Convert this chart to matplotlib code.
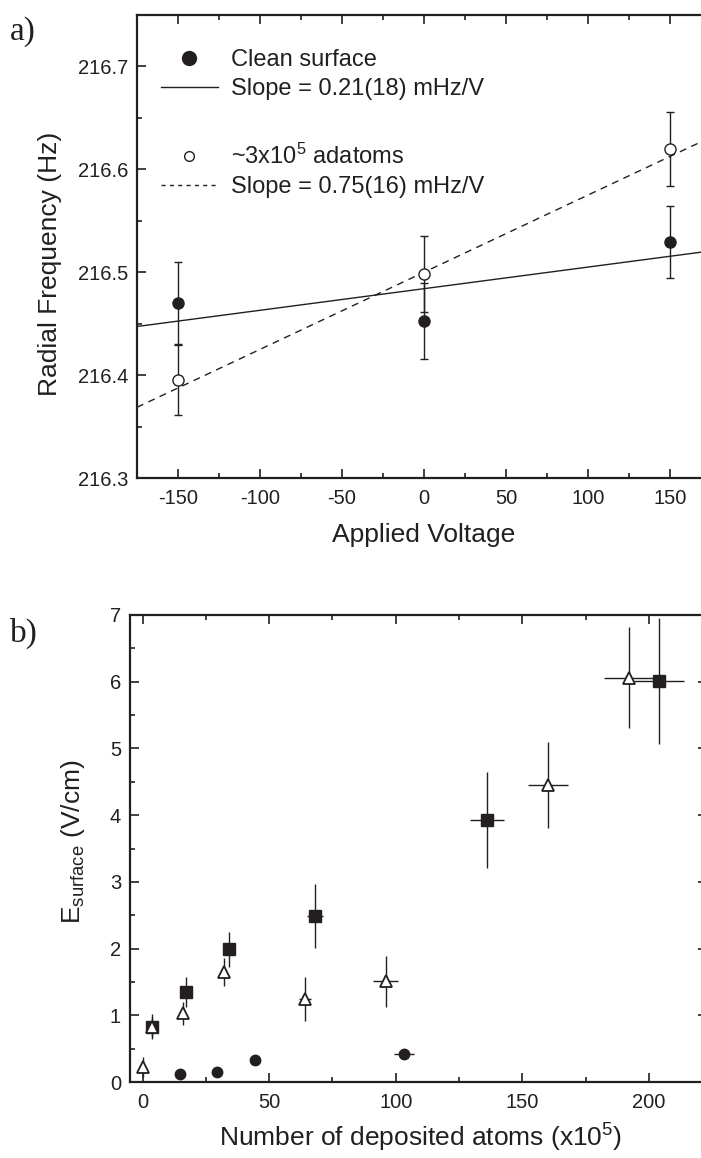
import numpy as np
import matplotlib
matplotlib.use("Agg")
import matplotlib.pyplot as plt
from matplotlib import font_manager
from matplotlib.lines import Line2D
from matplotlib.ticker import MultipleLocator, FormatStrFormatter

# narrow sans if we have it, else plain Liberation Sans with smaller sizes
try:
    font_manager.findfont("Liberation Sans Narrow", fallback_to_default=False)
    SANS = "Liberation Sans Narrow"
    TICK_FS, LAB_FS, LEG_FS = 18, 23, 20
except ValueError:
    SANS = "Liberation Sans"
    TICK_FS, LAB_FS, LEG_FS = 14.5, 19, 17

plt.rcParams["font.family"] = [SANS, "DejaVu Sans"]
plt.rcParams["mathtext.fontset"] = "custom"
plt.rcParams["mathtext.rm"] = SANS
plt.rcParams["mathtext.default"] = "regular"
plt.rcParams["axes.unicode_minus"] = False

INK = "#231f20"
W, H = 701, 1158

# --- panel a: radial frequency vs applied voltage ---
volts = [-150, 0, 150]
clean_f = [216.470, 216.453, 216.529]
clean_err = [0.040, 0.037, 0.035]
adatom_f = [216.395, 216.498, 216.620]
adatom_err = [0.034, 0.037, 0.036]
# linear fits: (intercept Hz, slope Hz/V)
clean_fit = (216.484, 0.00021)
adatom_fit = (216.500, 0.00075)

# --- panel b: surface field vs deposited atoms (x1e5) ---
circ_x = [14.6, 29.5, 44.4, 103.3]
circ_y = [0.12, 0.15, 0.33, 0.42]
circ_xerr = [0, 0, 0, 4.0]
circ_yerr = [0.02, 0.02, 0.02, 0.02]

sq_x = [3.6, 17, 34, 68, 136, 204]
sq_y = [0.83, 1.35, 1.99, 2.49, 3.93, 6.01]
sq_xerr = [0, 0, 0, 3.2, 6.7, 9.8]
sq_yerr = [0.19, 0.22, 0.26, 0.48, 0.72, 0.95]

tri_x = [0, 3.6, 16, 32, 64.3, 96, 160.2, 192]
tri_y = [0.22, 0.83, 1.03, 1.65, 1.25, 1.51, 4.45, 6.06]
tri_xerr = [0, 0, 0, 0, 2.4, 5.0, 8.0, 9.8]
tri_yerr = [0.15, 0.15, 0.17, 0.21, 0.33, 0.38, 0.65, 0.76]

fig = plt.figure(figsize=(W / 100, H / 100), dpi=100)


def px_axes(left, top, right, bottom):
    # axes box from pixel edges (top-left origin); right may run off the figure
    return fig.add_axes([left / W, 1 - bottom / H, (right - left) / W, (bottom - top) / H])


def style_axes(ax):
    for s in ax.spines.values():
        s.set_linewidth(1.6)
        s.set_color(INK)
    ax.tick_params(which="both", direction="in", top=True, right=True,
                   colors=INK, labelsize=TICK_FS, width=1.2)
    ax.tick_params(which="major", length=6.5)
    ax.tick_params(which="minor", length=3.6)
    ax.tick_params(axis="y", pad=6.5)
    ax.tick_params(axis="x", pad=8)


def fig_label(x, y, s, rot=0):
    fig.text(x / W, 1 - y / H, s, fontsize=LAB_FS, color=INK, ha="center",
             va="center", rotation=rot)


# panel a
ax1 = px_axes(137, 15, 711, 478)
ax1.set_xlim(-175, 175)
ax1.set_ylim(216.3, 216.75)
xs = np.array(ax1.get_xlim())
ax1.plot(xs, clean_fit[0] + clean_fit[1] * xs, "-", color=INK, lw=1.0, zorder=2)
ax1.plot(xs, adatom_fit[0] + adatom_fit[1] * xs, "--", color=INK, lw=1.0,
         dashes=(5, 4), zorder=2)
ax1.errorbar(volts, clean_f, yerr=clean_err, fmt="o", ms=8, mfc=INK, mec=INK,
             ecolor=INK, elinewidth=1.0, capsize=3, capthick=1.0, zorder=3)
ax1.errorbar(volts, adatom_f, yerr=adatom_err, fmt="o", ms=8, mfc="white", mec=INK,
             mew=1.0, ecolor=INK, elinewidth=1.0, capsize=3, capthick=1.0, zorder=3)
ax1.set_xticks(np.arange(-150, 151, 50))
ax1.xaxis.set_minor_locator(MultipleLocator(25))
ax1.yaxis.set_major_locator(MultipleLocator(0.1))
ax1.yaxis.set_minor_locator(MultipleLocator(0.05))
ax1.yaxis.set_major_formatter(FormatStrFormatter("%.1f"))
style_axes(ax1)
fig_label(424, 535, "Applied Voltage")
fig_label(50, 264, "Radial Frequency (Hz)", rot=90)

leg_kw = dict(loc="upper left", frameon=False, fontsize=LEG_FS, handlelength=2.4,
              handletextpad=0.55, labelspacing=0.3, borderpad=0, borderaxespad=0,
              labelcolor=INK)
leg1 = ax1.legend(
    [Line2D([], [], ls="none", marker="o", ms=10, mfc=INK, mec=INK),
     Line2D([], [], ls="-", color=INK, lw=1.0)],
    ["Clean surface", "Slope = 0.21(18) mHz/V"],
    bbox_to_anchor=(0.042, 0.926), **leg_kw)
ax1.add_artist(leg1)
ax1.legend(
    [Line2D([], [], ls="none", marker="o", ms=7, mfc="white", mec=INK),
     Line2D([], [], ls="--", color=INK, lw=1.0, dashes=(3, 3))],
    ["~3x10$^5$ adatoms", "Slope = 0.75(16) mHz/V"],
    bbox_to_anchor=(0.042, 0.722), **leg_kw)

fig.text(10 / W, 1 - 32 / H, "a)", family=["Liberation Serif"], fontsize=24,
         color=INK, va="center", ha="left")

# panel b
ax2 = px_axes(130, 615, 707, 1082)
ax2.set_xlim(-5, 223)
ax2.set_ylim(0, 7)
eb = dict(ls="none", mec=INK, ecolor=INK, elinewidth=1.0, capsize=0, zorder=3)
ax2.errorbar(circ_x, circ_y, xerr=circ_xerr, yerr=circ_yerr, marker="o", ms=7.5,
             mfc=INK, **eb)
ax2.errorbar(sq_x, sq_y, xerr=sq_xerr, yerr=sq_yerr, marker="s", ms=8, mfc=INK, **eb)
ax2.errorbar(tri_x, tri_y, xerr=tri_xerr, yerr=tri_yerr, marker="^", ms=9,
             mfc="white", mew=1.3, **eb)
ax2.xaxis.set_major_locator(MultipleLocator(50))
ax2.xaxis.set_minor_locator(MultipleLocator(25))
ax2.yaxis.set_major_locator(MultipleLocator(1))
ax2.yaxis.set_minor_locator(MultipleLocator(0.5))
style_axes(ax2)
fig_label(421, 1138, "Number of deposited atoms (x10$^5$)")
fig_label(73, 842, "E$_{surface}$ (V/cm)", rot=90)

fig.text(10 / W, 1 - 633 / H, "b)", family=["Liberation Serif"], fontsize=24,
         color=INK, va="center", ha="left")

fig.savefig("out.png", dpi=100)
